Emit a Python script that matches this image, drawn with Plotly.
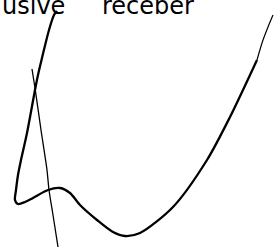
import plotly.graph_objects as go

# Thick handwritten curve (pixel-like coordinates, y grows downward)
thick_x = [57, 54, 49, 42, 38, 35, 27, 21, 18, 16, 15, 18, 25, 33, 48, 60, 70, 80, 97, 113, 125, 140, 173, 207, 230, 257]
thick_y = [11, 15, 30, 58, 75, 90, 133, 160, 175, 190, 200, 204, 202, 198, 190, 188, 193, 205, 220, 232, 236, 233, 207, 160, 117, 60]

# Thin tail of the thick curve (upper right)
tail_x = [257, 263, 268, 273]
tail_y = [60, 40, 27, 15]

# Thin nearly straight stroke
thin_x = [32, 35, 41, 47, 49, 53, 58]
thin_y = [69, 88, 130, 170, 190, 215, 247]

words = ["usive", "receber"]
word_x = [0, 100]
word_y = [6, 6]

fig = go.Figure()
fig.add_trace(go.Scatter(x=thick_x, y=thick_y, mode="lines",
                         line=dict(color="black", width=2.3, shape="spline", smoothing=0.8),
                         hoverinfo="skip"))
fig.add_trace(go.Scatter(x=tail_x, y=tail_y, mode="lines",
                         line=dict(color="black", width=1.2, shape="spline"),
                         hoverinfo="skip"))
fig.add_trace(go.Scatter(x=thin_x, y=thin_y, mode="lines",
                         line=dict(color="black", width=1.3, shape="spline", smoothing=0.6),
                         hoverinfo="skip"))

for t, x, y in zip(words, word_x, word_y):
    fig.add_annotation(x=x, y=y, xref="x", yref="y", text=t, showarrow=False,
                       xanchor="left", yanchor="middle",
                       font=dict(family="DejaVu Sans", size=24, color="black"))

fig.update_layout(width=278, height=247, margin=dict(l=0, r=0, t=0, b=0),
                  paper_bgcolor="white", plot_bgcolor="white", showlegend=False)
fig.update_xaxes(range=[0, 278], visible=False)
fig.update_yaxes(range=[247, 0], visible=False)
fig.write_html("out.html", config={"displayModeBar": False},
               post_script="document.body.style.margin='0';document.body.style.overflow='hidden';")
